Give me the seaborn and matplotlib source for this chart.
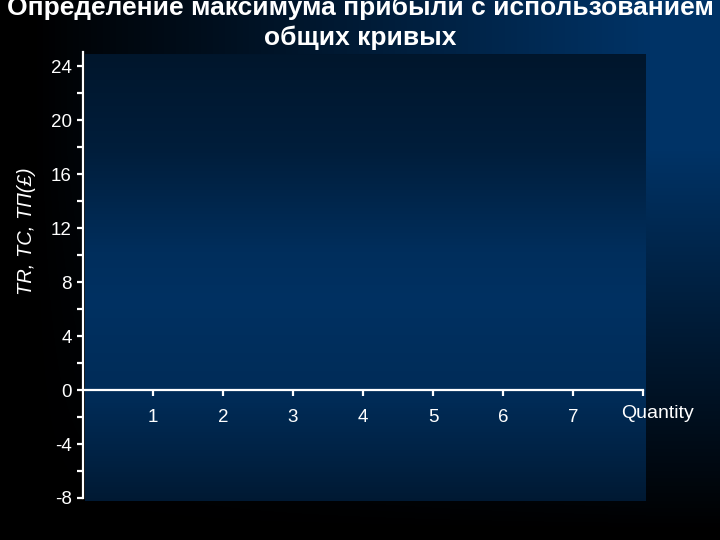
import numpy as np
import matplotlib
matplotlib.use("Agg")
import matplotlib.pyplot as plt
import seaborn as sns

# ---- chart content ----
title_text = "Определение максимума прибыли с использованием\nобщих кривых"
y_label = "TR, TC, TΠ(£)"
x_label = "Quantity"
x_ticks = [1, 2, 3, 4, 5, 6, 7]
x_tick_labels = ["1", "2", "3", "4", "5", "6", "7"]
x_end = 8
y_major = [-8, -4, 0, 4, 8, 12, 16, 20, 24]
y_minor = [-6, -2, 2, 6, 10, 14, 18, 22]
y_limits = (-8, 25.05)

sns.set_theme(style="ticks")
plt.rcParams["font.family"] = ["Liberation Sans", "DejaVu Sans"]

W, H = 720, 540
fig = plt.figure(figsize=(7.2, 5.4), dpi=100)

# ---- slide style background ----
yy, xx = np.mgrid[0:H, 0:W].astype(float)
fx = np.clip((xx - 30) / 620, 0, 1)
fy = np.clip((530 - yy) / 380, 0, 1)
f = fx * fy
mask = (xx >= 85) & (xx <= 645) & (yy >= 54) & (yy <= 500)
prof = np.interp(yy, [54, 150, 250, 300, 400, 460, 500],
                 [0.43, 0.58, 0.9, 0.96, 0.85, 0.65, 0.5])
f = np.where(mask, prof, f)
blue = np.array([0, 51, 102]) / 255.0
img = f[..., None] * blue[None, None, :]

ax_bg = fig.add_axes([0, 0, 1, 1], zorder=-10)
ax_bg.imshow(img, extent=[0, 1, 0, 1], aspect="auto", interpolation="bilinear")
ax_bg.set_xlim(0, 1)
ax_bg.set_ylim(0, 1)
ax_bg.set_axis_off()

# ---- main axes ----
ax = fig.add_axes([83 / W, 42 / H, 560 / W, 446 / H])
ax.patch.set_alpha(0)
ax.set_xlim(0, x_end)
ax.set_ylim(*y_limits)

sns.despine(ax=ax, top=True, right=True)
ax.spines["bottom"].set_position(("data", 0))
for s in ("left", "bottom"):
    ax.spines[s].set_color("white")
    ax.spines[s].set_linewidth(1.6)
ax.spines["left"].set_bounds(y_limits[0], y_limits[1])

ax.set_xticks(x_ticks)
ax.set_xticklabels(x_tick_labels)
ax.set_xticks([x_end], minor=True)
ax.set_yticks(y_major)
ax.set_yticklabels([str(v) for v in y_major])
ax.set_yticks(y_minor, minor=True)

ax.tick_params(axis="x", which="both", direction="out", length=4, width=1.6,
               color="white", labelcolor="white", labelsize=13.5, pad=10)
ax.tick_params(axis="y", which="both", direction="out", length=4, width=1.6,
               color="white", labelcolor="white", labelsize=13.5, pad=4)

ax.text(8.2, -1.75, x_label, color="white", fontsize=14, ha="center", va="center")

fig.text(27 / W, 1 - 231 / H, y_label, rotation=90, color="white", fontsize=14.5,
         style="italic", ha="center", va="center")

fig.text(0.5, 1 - 23 / H, title_text, color="white", fontsize=19,
         fontweight="bold", ha="center", va="center", linespacing=1.3)

fig.savefig("out.png", dpi=100)
